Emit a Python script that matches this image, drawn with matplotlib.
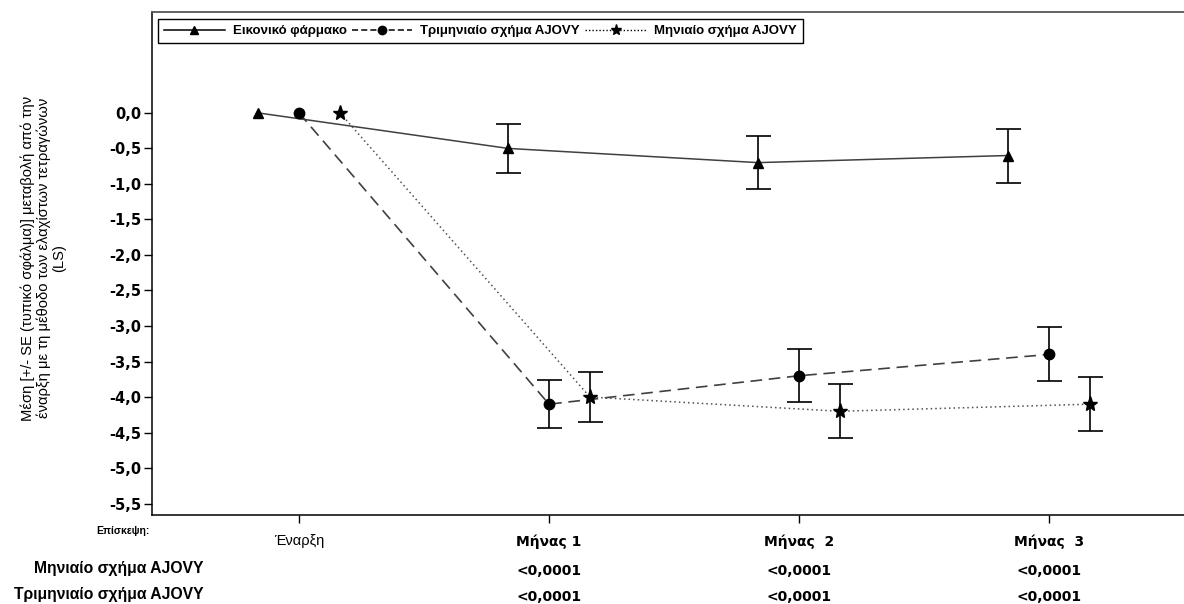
import matplotlib
matplotlib.use("Agg")
import matplotlib.pyplot as plt
from matplotlib.lines import Line2D

plt.rcParams['font.family'] = ['Liberation Sans Narrow', 'Liberation Sans', 'DejaVu Sans']

# ---- data ----
visits = ["Έναρξη", "Μήνας 1", "Μήνας  2", "Μήνας  3"]
series_names = ["Εικονικό φάρμακο", "Τριμηνιαίο σχήμα AJOVY", "Μηνιαίο σχήμα AJOVY"]
placebo_mean = [0.0, -0.5, -0.7, -0.6]
placebo_se = [0.0, 0.34, 0.37, 0.38]
quarterly_mean = [0.0, -4.1, -3.7, -3.4]
quarterly_se = [0.0, 0.34, 0.37, 0.38]
monthly_mean = [0.0, -4.0, -4.2, -4.1]
monthly_se = [0.0, 0.35, 0.38, 0.38]
yticks = [0.0, -0.5, -1.0, -1.5, -2.0, -2.5, -3.0, -3.5, -4.0, -4.5, -5.0, -5.5]
pval_rows = ["Μηνιαίο σχήμα AJOVY", "Τριμηνιαίο σχήμα AJOVY"]
pval_monthly = ["", "<0,0001", "<0,0001", "<0,0001"]
pval_quarterly = ["", "<0,0001", "<0,0001", "<0,0001"]

W, H = 1184, 604
fig = plt.figure(figsize=(W / 100, H / 100), dpi=100)
ax = fig.add_axes([152 / W, 1 - 515 / H, 1032 / W, (515 - 12) / H])

offset = 0.164
x = list(range(len(visits)))
xp = [v - offset for v in x]
xq = list(x)
xm = [v + offset for v in x]

def err_idx(se):
    return [i for i, s in enumerate(se) if s > 0]

# lines
ax.plot(xp, placebo_mean, color='#404040', lw=1.1, ls='-', zorder=2)
ax.plot(xq, quarterly_mean, color='#404040', lw=1.2, ls=(0, (7, 4)), zorder=2)
ax.plot(xm, monthly_mean, color='#505050', lw=1.1, ls=(0, (1, 2)), zorder=2)

# error bars
for xs, ms, ss in [(xp, placebo_mean, placebo_se), (xq, quarterly_mean, quarterly_se),
                   (xm, monthly_mean, monthly_se)]:
    idx = err_idx(ss)
    ax.errorbar([xs[i] for i in idx], [ms[i] for i in idx], yerr=[ss[i] for i in idx],
                fmt='none', ecolor='black', elinewidth=1.2, capsize=9, capthick=1.2, zorder=3)

# markers
ax.plot(xp, placebo_mean, ls='none', marker='^', ms=7, color='black', zorder=4)
ax.plot(xq, quarterly_mean, ls='none', marker='o', ms=7.5, color='black', zorder=4)
ax.plot(xm, monthly_mean, ls='none', marker='*', ms=11, color='black', zorder=4)

ax.set_xlim(-0.588, 3.54)
ax.set_ylim(-5.66, 1.42)
ax.set_yticks(yticks)
ax.set_yticklabels([f"{v:.1f}".replace('.', ',').replace('-0,0', '0,0') for v in yticks],
                   fontsize=10.5, fontweight='bold', family=['DejaVu Sans'])
ax.set_xticks(x)
ax.set_xticklabels(visits, fontsize=10, fontweight='bold', family=['DejaVu Sans'])
lab0 = ax.get_xticklabels()[0]
lab0.set_fontweight('normal')
lab0.set_family(['Liberation Sans', 'DejaVu Sans'])
lab0.set_fontsize(10.5)
ax.tick_params(axis='y', length=6, width=1, pad=2)
ax.tick_params(axis='x', length=6, width=1, pad=8)

ax.spines['right'].set_visible(False)
ax.spines['top'].set_color('#555555')
ax.spines['top'].set_linewidth(1.3)
ax.spines['left'].set_linewidth(1.1)
ax.spines['bottom'].set_linewidth(1.1)

ax.set_ylabel("Μέση [+/- SE (τυπικό σφάλμα)] μεταβολή από την\n"
              "έναρξη με τη μέθοδο των ελαχίστων τετραγώνων\n(LS)",
              fontsize=10.6, linespacing=1.1)
ax.yaxis.set_label_coords(-86 / 1032, (515 - 258) / 503)

# legend
handles = [
    Line2D([], [], color='black', lw=1.1, ls='-', marker='^', ms=6),
    Line2D([], [], color='black', lw=1.1, ls=(0, (4, 2)), marker='o', ms=6),
    Line2D([], [], color='black', lw=1.0, ls=(0, (1, 1.5)), marker='*', ms=8),
]
leg = ax.legend(handles, series_names, loc='upper left', bbox_to_anchor=(6 / 1032, 1 - 7 / 503),
                ncol=3, frameon=True, fancybox=False, edgecolor='black', framealpha=1,
                prop={'size': 9.5, 'weight': 'bold'}, handlelength=4.6, handletextpad=0.6,
                columnspacing=0.4, borderpad=0.45, borderaxespad=0)
leg.get_frame().set_linewidth(1.0)

# bottom table
def fx(px):
    return px / W

def fy(py):
    return 1 - py / H

fig.text(fx(150), fy(531), "Επίσκεψη:", fontsize=7.5, fontweight='bold', ha='right', va='center')
fig.text(fx(204), fy(569), pval_rows[0], fontsize=11.3, fontweight='bold', ha='right', va='center')
fig.text(fx(204), fy(594), pval_rows[1], fontsize=11.3, fontweight='bold', ha='right', va='center')
for i, t in enumerate(pval_monthly):
    if t:
        xpix = 299 + 250 * i
        fig.text(fx(xpix), fy(571), t, fontsize=10, fontweight='bold', ha='center', va='center',
                 family=['DejaVu Sans'])
for i, t in enumerate(pval_quarterly):
    if t:
        xpix = 299 + 250 * i
        fig.text(fx(xpix), fy(597), t, fontsize=10, fontweight='bold', ha='center', va='center',
                 family=['DejaVu Sans'])

fig.savefig("out.png", dpi=100)
